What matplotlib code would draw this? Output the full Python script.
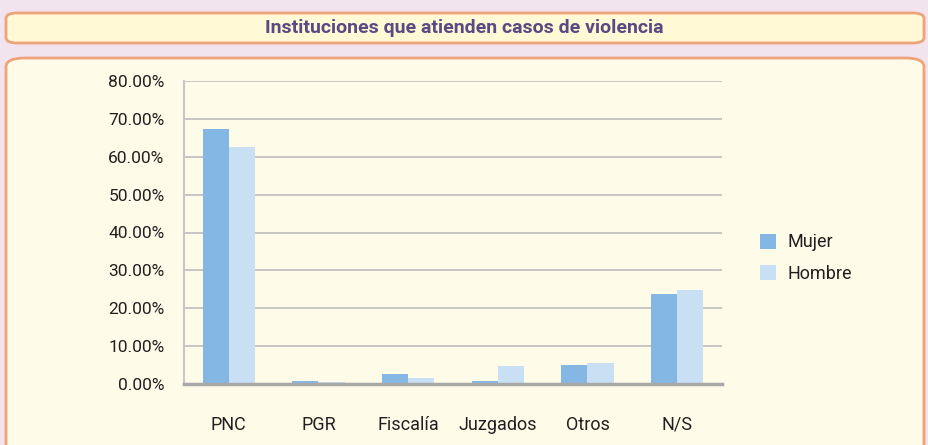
import matplotlib
matplotlib.use("Agg")
import matplotlib.pyplot as plt
from matplotlib.patches import FancyBboxPatch
import numpy as np

categories = ["PNC", "PGR", "Fiscalía", "Juzgados", "Otros", "N/S"]
mujer = [67.2, 0.7, 2.7, 0.7, 5.1, 23.7]
hombre = [62.6, 0.5, 1.7, 4.7, 5.6, 24.8]
yticks = [0, 10, 20, 30, 40, 50, 60, 70, 80]
title = "Instituciones que atienden casos de violencia"

FONT = ["Roboto", "DejaVu Sans"]
plt.rcParams['font.family'] = FONT

W, H = 929, 445
fig = plt.figure(figsize=(W/100, H/100), dpi=100)
fig.patch.set_facecolor("#f2e4ef")

def fx(px): return px / W
def fy(py): return 1 - py / H

# title box
tb = FancyBboxPatch((fx(6), fy(43)), fx(918), (43-13)/H,
                    boxstyle="round,pad=0,rounding_size=0.012",
                    transform=fig.transFigure, facecolor="#fff9d6",
                    edgecolor="#eea47a", linewidth=2, zorder=-5)
fig.patches.append(tb)
fig.text(0.5, fy(28), title, ha="center", va="center", fontsize=14,
         fontweight="bold", color="#5b4a82")

# panel box
pb = FancyBboxPatch((fx(6), fy(460)), fx(918), (460-58)/H,
                    boxstyle="round,pad=0,rounding_size=0.02",
                    transform=fig.transFigure, facecolor="#fffbe9",
                    edgecolor="#eea47a", linewidth=2, zorder=-5)
fig.patches.append(pb)

ax = fig.add_axes([fx(184), fy(384), 538/W, (384-81)/H])
ax.set_zorder(5)
ax.set_facecolor("none")
x = np.arange(len(categories))
w = 0.29
ax.bar(x - w/2, mujer, width=w, color="#85b7e5", label="Mujer", zorder=3)
ax.bar(x + w/2, hombre, width=w, color="#c9dff3", label="Hombre", zorder=3)
ax.set_xlim(-0.5, len(categories) - 0.5)
ax.set_ylim(0, 80)
ax.set_yticks(yticks)
ax.set_yticklabels([f"{v:.2f}%" for v in yticks], fontsize=12.5, color="#231f20")
ax.set_xticks(x)
ax.set_xticklabels(categories, fontsize=13, color="#231f20")
ax.tick_params(axis="both", length=0)
ax.tick_params(axis="y", pad=14)
ax.tick_params(axis="x", pad=23)
ax.yaxis.grid(True, color="#b8b8b8", linewidth=1.1, zorder=1)
ax.set_axisbelow(True)
for s in ["top", "right"]:
    ax.spines[s].set_visible(False)
ax.spines["left"].set_color("#c8c8c8")
ax.spines["left"].set_linewidth(1.5)
ax.spines["bottom"].set_color("#a8a8a8")
ax.spines["bottom"].set_linewidth(2.5)
ax.spines["bottom"].set_zorder(4)

leg = fig.legend(loc="upper left", bbox_to_anchor=(fx(744), fy(217)),
                 frameon=False, fontsize=13, handlelength=0.9, handleheight=0.9,
                 labelspacing=0.75, handletextpad=0.6)
leg.set_zorder(6)
for t in leg.get_texts():
    t.set_color("#231f20")

fig.savefig("out.png", dpi=100, facecolor=fig.get_facecolor())
